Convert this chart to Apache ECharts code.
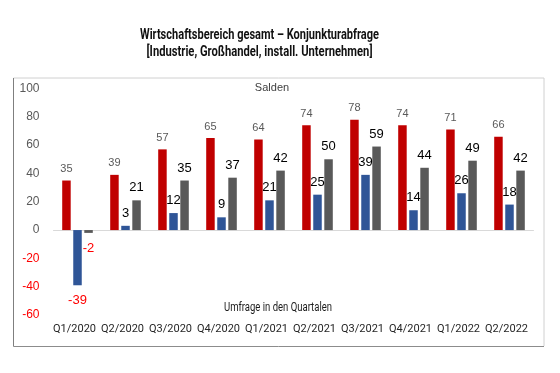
<!DOCTYPE html>
<html><head><meta charset="utf-8">
<script src="https://cdn.jsdelivr.net/npm/echarts@6/dist/echarts.min.js"></script>
<style>html,body{margin:0;padding:0;background:#fff}#c{width:560px;height:373px}</style>
</head><body><div id="c"></div>
<script>
const categories = ['Q1/2020','Q2/2020','Q3/2020','Q4/2020','Q1/2021','Q2/2021','Q3/2021','Q4/2021','Q1/2022','Q2/2022'];
const seriesRed = [35, 39, 57, 65, 64, 74, 78, 74, 71, 66];
const seriesBlue = [-39, 3, 12, 9, 21, 25, 39, 14, 26, 18];
const seriesGray = [-2, 21, 35, 37, 42, 50, 59, 44, 49, 42];

const titleLine1 = 'Wirtschaftsbereich gesamt – Konjunkturabfrage';
const titleLine2 = '[Industrie, Großhandel, install. Unternehmen]';

const regular = '"Liberation Sans","Roboto",sans-serif';
const boldFont = 'bold 15px Roboto';
const condFont = '12px Roboto';

const mctx = document.createElement('canvas').getContext('2d');
function fitScale(text, font, target) {
  mctx.font = font;
  return target / mctx.measureText(text).width;
}

function items(arr) {
  return arr.map(v => v < 0
    ? { value: v, label: { position: 'bottom', distance: 9, color: '#FF0000', fontSize: 13 } }
    : { value: v });
}
function mkSeries(name, arr, color, lblColor, lblSize) {
  return {
    name, type: 'bar', data: items(arr), barWidth: 8.5, barGap: '30%',
    itemStyle: { color },
    label: { show: true, position: 'top', distance: 6, color: lblColor, fontSize: lblSize, fontFamily: regular }
  };
}
function scaledText(text, x, y, font, fill, target) {
  const s = fitScale(text, font, target);
  return { type: 'text', x, y, scaleX: s, scaleY: 1, style: { text, align: 'center', verticalAlign: 'middle', fill, font }, silent: true };
}
const chart = echarts.init(document.getElementById('c'));
chart.setOption({
  animation: false,
  grid: { left: 53.5, right: 26.5, top: 88.5, bottom: 58, outerBoundsMode: 'none', containLabel: false },
  xAxis: {
    type: 'category', data: categories,
    axisLine: { show: true, onZero: true, lineStyle: { color: '#d9d9d9', width: 1 } },
    axisTick: { show: false },
    axisLabel: { show: true, interval: 0, margin: 9, color: '#262626', fontFamily: 'Roboto', fontSize: 11, padding: [0, 6, 0, 0] }
  },
  yAxis: {
    type: 'value', min: -60, max: 100, interval: 20,
    splitLine: { show: false },
    axisLine: { show: false }, axisTick: { show: false },
    axisLabel: {
      margin: 14, fontFamily: regular, fontSize: 12,
      formatter: v => v < 0 ? '{n|' + v + '}' : '{p|' + v + '}',
      rich: { n: { color: '#FF0000', fontSize: 12, fontFamily: regular }, p: { color: '#595959', fontSize: 12, fontFamily: regular } }
    }
  },
  series: [
    mkSeries('Reihe 1', seriesRed, '#C00000', '#595959', 11),
    mkSeries('Reihe 2', seriesBlue, '#2F5597', '#000000', 13),
    mkSeries('Reihe 3', seriesGray, '#595959', '#000000', 13)
  ],
  graphic: [
    scaledText(titleLine1, 259.5, 35, boldFont, '#111111', 239),
    scaledText(titleLine2, 259.5, 52, boldFont, '#111111', 226),
    { type: 'line', shape: { x1: 13.5, y1: 78, x2: 544, y2: 78 }, style: { stroke: '#d0d0d0', lineWidth: 1 }, silent: true },
    { type: 'line', shape: { x1: 544, y1: 78, x2: 544, y2: 346 }, style: { stroke: '#d0d0d0', lineWidth: 1 }, silent: true },
    { type: 'line', shape: { x1: 13.5, y1: 78, x2: 13.5, y2: 346.5 }, style: { stroke: '#7f7f7f', lineWidth: 1 }, silent: true },
    { type: 'line', shape: { x1: 13.5, y1: 346.5, x2: 544, y2: 346.5 }, style: { stroke: '#8c8c8c', lineWidth: 1 }, silent: true },
    { type: 'text', x: 272, y: 88, style: { text: 'Salden', align: 'center', verticalAlign: 'middle', fill: '#404040', font: '11px ' + regular }, silent: true },
    scaledText('Umfrage in den Quartalen', 278, 308, condFont, '#1a1a1a', 108)
  ]
});
</script></body></html>
